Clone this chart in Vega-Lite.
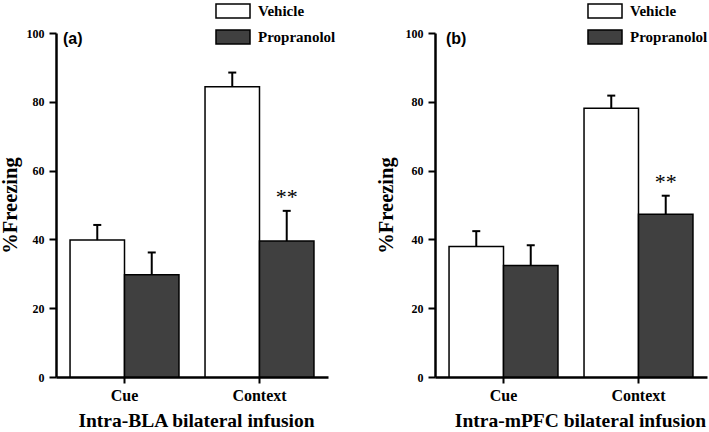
{
  "$schema": "https://vega.github.io/schema/vega-lite/v6.json",
  "padding": {"left": 0, "top": 3, "right": 0, "bottom": 0},
  "background": "white",
  "config": {"view": {"stroke": null}, "font": "Liberation Serif"},
  "datasets": {
    "freezing": [
      {"panel": "a", "phase": "Cue", "group": "Vehicle", "value": 39.8, "upper": 44.2, "sig": ""},
      {"panel": "a", "phase": "Cue", "group": "Propranolol", "value": 29.7, "upper": 36.2, "sig": ""},
      {"panel": "a", "phase": "Context", "group": "Vehicle", "value": 84.4, "upper": 88.5, "sig": ""},
      {"panel": "a", "phase": "Context", "group": "Propranolol", "value": 39.5, "upper": 48.3, "sig": "**"},
      {"panel": "b", "phase": "Cue", "group": "Vehicle", "value": 37.9, "upper": 42.4, "sig": ""},
      {"panel": "b", "phase": "Cue", "group": "Propranolol", "value": 32.4, "upper": 38.3, "sig": ""},
      {"panel": "b", "phase": "Context", "group": "Vehicle", "value": 78.1, "upper": 81.8, "sig": ""},
      {"panel": "b", "phase": "Context", "group": "Propranolol", "value": 47.3, "upper": 52.7, "sig": "**"}
    ]
  },
  "data": {"name": "freezing"},
  "bounds": "flush",
  "spacing": 107,
  "resolve": {"legend": {"fill": "independent"}, "scale": {"y": "independent", "x": "independent"}},
  "hconcat": [
    {
      "width": 272,
      "height": 344,
      "title": {"text": "(a)", "anchor": "start", "frame": "group", "font": "Liberation Sans", "fontSize": 16, "fontWeight": "bold", "baseline": "top", "offset": -44, "dx": 7, "color": "black"},
      "transform": [{"filter": "datum.panel === 'a'"}],
      "encoding": {
        "x": {"field": "phase", "type": "nominal", "sort": ["Cue", "Context"],
          "scale": {"paddingInner": 0.193, "paddingOuter": 0.104},
          "axis": {"title": "Intra-BLA bilateral infusion", "titleX": 140, "labelAngle": 0, "domainColor": "black", "domainWidth": 2.5, "tickColor": "black", "tickWidth": 2, "tickSize": 6, "labelFont": "Liberation Serif", "labelFontSize": 16, "labelFontWeight": "bold", "labelColor": "black", "labelPadding": 4, "titleFont": "Liberation Serif", "titleFontSize": 19.5, "titleFontWeight": "bold", "titleColor": "black", "titlePadding": 8}},
        "xOffset": {"field": "group", "type": "nominal", "sort": ["Vehicle", "Propranolol"], "scale": {"paddingInner": 0, "paddingOuter": 0}}
      },
      "layer": [
        {
          "mark": {"type": "bar", "stroke": "black", "strokeWidth": 1.5},
          "encoding": {
            "y": {"field": "value", "type": "quantitative", "scale": {"domain": [0, 100], "nice": false},
              "axis": {"title": "%Freezing", "values": [0, 20, 40, 60, 80, 100], "grid": false, "domainColor": "black", "domainWidth": 2.5, "tickColor": "black", "tickWidth": 2, "tickSize": 7, "labelFont": "Liberation Serif", "labelFontSize": 12, "labelFontWeight": "bold", "labelColor": "black", "labelPadding": 5, "titleFont": "Liberation Serif", "titleFontSize": 20.5, "titleFontWeight": "bold", "titleColor": "black", "titlePadding": 6}},
            "fill": {"field": "group", "type": "nominal", "sort": ["Vehicle", "Propranolol"],
              "scale": {"domain": ["Vehicle", "Propranolol"], "range": ["white", "#404040"]},
              "legend": {"orient": "none", "legendX": 169, "legendY": -30, "title": null, "symbolType": "M-2.43,-1H2.43V1H-2.43Z", "symbolSize": 196, "symbolStrokeColor": "black", "symbolStrokeWidth": 1.5, "symbolOpacity": 1, "labelFont": "Liberation Serif", "labelFontSize": 15, "labelFontWeight": "bold", "labelColor": "black", "labelOffset": 17, "rowPadding": 6}}
          }
        },
        {
          "mark": {"type": "rule", "strokeWidth": 2, "color": "black"},
          "encoding": {"y": {"field": "value", "type": "quantitative"}, "y2": {"field": "upper"}}
        },
        {
          "mark": {"type": "tick", "orient": "horizontal", "size": 8, "thickness": 2, "color": "black", "opacity": 1},
          "encoding": {"y": {"field": "upper", "type": "quantitative"}}
        },
        {
          "transform": [{"filter": "datum.sig != ''"}],
          "mark": {"type": "text", "font": "Liberation Serif", "fontSize": 22, "dy": -14, "color": "black"},
          "encoding": {"y": {"field": "upper", "type": "quantitative"}, "text": {"field": "sig"}}
        }
      ]
    },
    {
      "width": 272,
      "height": 344,
      "title": {"text": "(b)", "anchor": "start", "frame": "group", "font": "Liberation Sans", "fontSize": 16, "fontWeight": "bold", "baseline": "top", "offset": -44, "dx": 11, "color": "black"},
      "transform": [{"filter": "datum.panel === 'b'"}],
      "encoding": {
        "x": {"field": "phase", "type": "nominal", "sort": ["Cue", "Context"],
          "scale": {"paddingInner": 0.193, "paddingOuter": 0.104},
          "axis": {"title": "Intra-mPFC bilateral infusion", "titleX": 145, "labelAngle": 0, "domainColor": "black", "domainWidth": 2.5, "tickColor": "black", "tickWidth": 2, "tickSize": 6, "labelFont": "Liberation Serif", "labelFontSize": 16, "labelFontWeight": "bold", "labelColor": "black", "labelPadding": 4, "titleFont": "Liberation Serif", "titleFontSize": 19.5, "titleFontWeight": "bold", "titleColor": "black", "titlePadding": 8}},
        "xOffset": {"field": "group", "type": "nominal", "sort": ["Vehicle", "Propranolol"], "scale": {"paddingInner": 0, "paddingOuter": 0}}
      },
      "layer": [
        {
          "mark": {"type": "bar", "stroke": "black", "strokeWidth": 1.5},
          "encoding": {
            "y": {"field": "value", "type": "quantitative", "scale": {"domain": [0, 100], "nice": false},
              "axis": {"title": "%Freezing", "values": [0, 20, 40, 60, 80, 100], "grid": false, "domainColor": "black", "domainWidth": 2.5, "tickColor": "black", "tickWidth": 2, "tickSize": 7, "labelFont": "Liberation Serif", "labelFontSize": 12, "labelFontWeight": "bold", "labelColor": "black", "labelPadding": 5, "titleFont": "Liberation Serif", "titleFontSize": 20.5, "titleFontWeight": "bold", "titleColor": "black", "titlePadding": 9}},
            "fill": {"field": "group", "type": "nominal", "sort": ["Vehicle", "Propranolol"],
              "scale": {"domain": ["Vehicle", "Propranolol"], "range": ["white", "#404040"]},
              "legend": {"orient": "none", "legendX": 162, "legendY": -30, "title": null, "symbolType": "M-2.43,-1H2.43V1H-2.43Z", "symbolSize": 196, "symbolStrokeColor": "black", "symbolStrokeWidth": 1.5, "symbolOpacity": 1, "labelFont": "Liberation Serif", "labelFontSize": 15, "labelFontWeight": "bold", "labelColor": "black", "labelOffset": 17, "rowPadding": 6}}
          }
        },
        {
          "mark": {"type": "rule", "strokeWidth": 2, "color": "black"},
          "encoding": {"y": {"field": "value", "type": "quantitative"}, "y2": {"field": "upper"}}
        },
        {
          "mark": {"type": "tick", "orient": "horizontal", "size": 8, "thickness": 2, "color": "black", "opacity": 1},
          "encoding": {"y": {"field": "upper", "type": "quantitative"}}
        },
        {
          "transform": [{"filter": "datum.sig != ''"}],
          "mark": {"type": "text", "font": "Liberation Serif", "fontSize": 22, "dy": -14, "color": "black"},
          "encoding": {"y": {"field": "upper", "type": "quantitative"}, "text": {"field": "sig"}}
        }
      ]
    }
  ]
}
